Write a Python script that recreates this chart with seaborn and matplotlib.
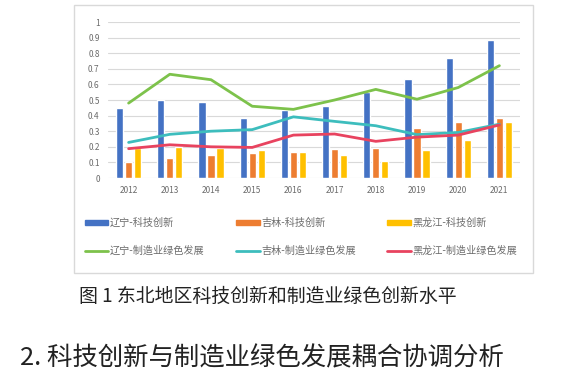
import numpy as np
import pandas as pd
import matplotlib
matplotlib.use("Agg")
import matplotlib.pyplot as plt
import matplotlib.patches as mpatches
import seaborn as sns

years = ["2012", "2013", "2014", "2015", "2016", "2017", "2018", "2019", "2020", "2021"]

ln_tech = [0.449, 0.50, 0.49, 0.387, 0.438, 0.464, 0.55, 0.635, 0.77, 0.887]
jl_tech = [0.10, 0.128, 0.145, 0.162, 0.167, 0.184, 0.192, 0.32, 0.361, 0.385]
hlj_tech = [0.19, 0.20, 0.19, 0.18, 0.167, 0.145, 0.11, 0.18, 0.245, 0.36]

ln_green = [0.48, 0.665, 0.63, 0.46, 0.44, 0.50, 0.568, 0.505, 0.58, 0.72]
jl_green = [0.228, 0.28, 0.30, 0.31, 0.392, 0.363, 0.335, 0.278, 0.292, 0.345]
hlj_green = [0.188, 0.213, 0.20, 0.196, 0.275, 0.282, 0.235, 0.262, 0.275, 0.34]

bar_names = ["辽宁-科技创新", "吉林-科技创新", "黑龙江-科技创新"]
line_names = ["辽宁-制造业绿色发展", "吉林-制造业绿色发展", "黑龙江-制造业绿色发展"]
bar_colors = ["#4472C4", "#ED7D31", "#FFC000"]
line_colors = ["#7DC24B", "#3DBDBD", "#E8435F"]

caption1 = "图 1 东北地区科技创新和制造业绿色创新水平"
caption2 = "2. 科技创新与制造业绿色发展耦合协调分析"

sns.set_theme(style="white")
plt.rcParams["font.family"] = ["Noto Sans CJK SC", "DejaVu Sans"]

bars_df = pd.DataFrame({
    "year": years * 3,
    "series": np.repeat(bar_names, len(years)),
    "value": ln_tech + jl_tech + hlj_tech,
})
pos = list(range(len(years)))
lines_df = pd.DataFrame({
    "pos": pos * 3,
    "series": np.repeat(line_names, len(years)),
    "value": ln_green + jl_green + hlj_green,
})

fig = plt.figure(figsize=(5.85, 3.73), dpi=100)
fig.patch.set_facecolor("white")

# chart frame
frame = mpatches.Rectangle((74 / 585, 100 / 373), 459 / 585, 268 / 373,
                           transform=fig.transFigure, fill=False,
                           edgecolor="#D9D9D9", linewidth=1.0)
fig.patches.append(frame)

ax = fig.add_axes([108 / 585, 195 / 373, 412 / 585, 156 / 373])
sns.barplot(data=bars_df, x="year", y="value", hue="series",
            palette=bar_colors, width=0.66, gap=0.2, ax=ax,
            saturation=1, legend=False)
sns.lineplot(data=lines_df, x="pos", y="value", hue="series",
             palette=line_colors, linewidth=2.0, ax=ax, legend=False)

ax.set_ylim(0, 1)
ax.set_xlim(-0.5, len(years) - 0.5)
ax.set_yticks(np.arange(0, 1.01, 0.1))
ax.set_yticklabels(["0", "0.1", "0.2", "0.3", "0.4", "0.5", "0.6", "0.7", "0.8", "0.9", "1"])
ax.set_xticks(pos)
ax.set_xticklabels(years)
ax.set_xlabel("")
ax.set_ylabel("")
ax.yaxis.grid(True, color="#D9D9D9", linewidth=0.8)
ax.set_axisbelow(True)
for s in ax.spines.values():
    s.set_visible(False)
ax.tick_params(axis="both", length=0, labelsize=6, colors="#6b6b6b", pad=6)

handles = []
labels = []
for i in range(3):
    handles.append(mpatches.Patch(color=bar_colors[i]))
    labels.append(bar_names[i])
    handles.append(plt.Line2D([], [], color=line_colors[i], linewidth=2.0))
    labels.append(line_names[i])

fig.legend(handles, labels, ncol=3, loc="center",
           bbox_to_anchor=(85 / 585, 0.30, 432 / 585, 0.13), mode="expand",
           frameon=False, fontsize=7.3, handlelength=2.3, handleheight=0.5,
           handletextpad=0.15, labelspacing=1.75, borderpad=0, borderaxespad=0,
           labelcolor="#6b6b6b")

fig.text(268 / 585, 1 - 296 / 373, caption1, ha="center", va="center",
         fontsize=13.6, color="#222222")
fig.text(20 / 585, 1 - 358 / 373, caption2, ha="left", va="center",
         fontsize=18.3, color="#222222")

fig.savefig("out.png", dpi=100, facecolor="white")
